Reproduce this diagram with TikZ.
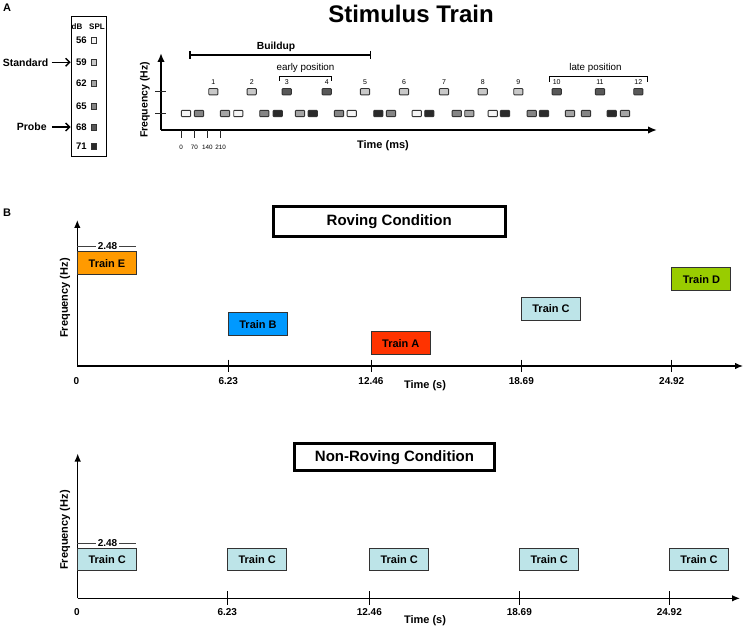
\documentclass[tikz,border=0pt]{standalone}
\usepackage{fontspec}
\setmainfont{Liberation Sans}
\usetikzlibrary{arrows.meta}
\newcommand\myfs[1]{\fontsize{#1}{#1}\selectfont}
\definecolor{lvA}{HTML}{F4F4F4}
\definecolor{lvB}{HTML}{C8C8C8}
\definecolor{lvC}{HTML}{A4A4A4}
\definecolor{lvD}{HTML}{858585}
\definecolor{lvE}{HTML}{585858}
\definecolor{lvF}{HTML}{2A2A2A}
\definecolor{trOrange}{HTML}{FF9A00}
\definecolor{trBlue}{HTML}{0099FF}
\definecolor{trRed}{HTML}{FF3300}
\definecolor{trCyan}{HTML}{BDE4E8}
\definecolor{trGreen}{HTML}{99CC00}
\tikzset{
  tone/.style={draw=black!80, line width=0.9pt, rounded corners=0.8pt, minimum width=9.2pt, minimum height=6.3pt, inner sep=0pt},
  lgsq/.style={draw=black!80, line width=0.7pt, minimum width=5.5pt, minimum height=6pt, inner sep=0pt},
  bold/.style={font=\bfseries\myfs{#1}, inner sep=0pt},
  reg/.style={font=\myfs{#1}, inner sep=0pt},
  train/.style={draw=black!80, line width=0.9pt, minimum width=59pt, minimum height=23pt, inner sep=0pt, font=\bfseries\myfs{11}},
  condbox/.style={draw=black, line width=3pt, inner sep=0pt, font=\bfseries\myfs{15}},
  bigaxis/.style={line width=2.8pt, -{Latex[length=9pt,width=7.5pt]}},
  axisB/.style={line width=1.2pt, -{Latex[length=8pt,width=6.5pt]}},
  thin/.style={line width=0.8pt, black!85},
  dimline/.style={line width=1pt, black!75},
  callout/.style={line width=1.4pt, -{Straight Barb[length=4pt,width=8pt]}},
}
\begin{document}
\begin{tikzpicture}[x=1pt,y=-1pt]
\useasboundingbox (0,0) rectangle (744,628);
% ---------------- Panel A ----------------
\node[bold=11] (labA) at (7,8) {A};
\node[bold=24] (title) at (411,14) {Stimulus Train};
% legend box
\node[draw, line width=0.8pt, minimum width=35.7pt, minimum height=140pt, inner sep=0pt] (legend) at (88.85,86.7) {};
\node[bold=8] (dB) at (77,26.7) {dB};
\node[bold=8] (spl) at (97,26.7) {SPL};
\foreach \y/\v/\c in {40.7/56/lvA, 62.3/59/lvB, 83.3/62/lvC, 106/65/lvD, 127/68/lvE, 146.7/71/lvF}{
  \node[bold=9.5] (n\v) at (81.5,\y) {\v};
  \node[lgsq, fill=\c] (s\v) at (93.7,\y) {};
}
\node[bold=10.5, anchor=east] (std) at (48.5,62.3) {Standard};
\node[bold=10.5, anchor=east] (prb) at (46.8,127) {Probe};
\draw[callout] (std.east) ++(3,0) coordinate (stdS) -- (legend.west |- std.east);
\draw[callout] (prb.east) ++(5,0) coordinate (prbS) -- (legend.west |- prb.east);
% axes
\coordinate (Aorig) at (161,130);
\draw[bigaxis] (Aorig) -- (161,53);
\draw[bigaxis] (Aorig) -- (657,130);
\node[bold=10.5, rotate=90] (freqA) at (145,100) {Frequency (Hz)};
\node[bold=11] (timeA) at (383,145.5) {Time (ms)};
\draw[thin] (155,91.7) -- (166,91.7);
\draw[thin] (155,113.5) -- (166,113.5);
\foreach \x/\t in {181/0, 194.3/70, 207.3/140, 220.7/210}{
  \draw[thin] (\x,130) -- (\x,138.5);
  \node[reg=6.3] at (\x,147.3) {\t};
}
% buildup
\draw[line width=1.5pt] (190,55) -- (370.7,55);
\draw[line width=1.2pt] (190,51) -- (190,59);
\draw[line width=1.2pt] (370.7,51) -- (370.7,59);
\node[bold=10.3] (build) at (276,46.5) {Buildup};
% early / late position brackets
\draw[line width=0.9pt] (279.3,81) -- (279.3,76.7) -- (331,76.7) -- (331,81);
\node[reg=9.8] (early) at (305.5,67.5) {early position};
\draw[line width=0.9pt] (549.3,82) -- (549.3,76.7) -- (647.3,76.7) -- (647.3,82);
\node[reg=9.8] (late) at (595.5,67.5) {late position};
% top tones
\foreach \x/\c [count=\i] in {213.3/lvB, 251.7/lvB, 286.7/lvE, 326.7/lvE, 365/lvB, 404/lvB, 444/lvB, 482.7/lvB, 518.3/lvB, 556.7/lvE, 600/lvE, 638.3/lvE}{
  \node[tone, fill=\c] (t\i) at (\x,91.7) {};
  \node[reg=7] (tl\i) at (\x,82.3) {\i};
}
% bottom tones
\foreach \x/\c [count=\i] in {186/lvA, 199/lvD, 225/lvC, 238.3/lvA, 264.3/lvD, 277.7/lvF, 300/lvC, 312.7/lvF, 339/lvD, 351.7/lvA, 378.3/lvF, 391/lvD, 416.7/lvA, 429.3/lvF, 456.7/lvD, 469.3/lvC, 492.7/lvA, 505/lvF, 531.7/lvD, 544/lvF, 570/lvC, 586/lvD, 611.7/lvF, 625/lvC}{
  \node[tone, fill=\c] (b\i) at (\x,113.5) {};
}
% ---------------- Panel B ----------------
\node[bold=11] (labB) at (7,213) {B};
% Roving
\node[condbox, minimum width=232pt, minimum height=29.7pt] (rov) at (389.2,221.4) {Roving Condition};
\coordinate (Borig) at (77.3,366);
\draw[axisB] (Borig) -- (77.3,220);
\draw[axisB] (Borig) -- (743,366);
\node[bold=11, rotate=90] (freqB) at (65,298) {Frequency (Hz)};
\node[bold=11] (timeB) at (425,385.5) {Time (s)};
\node[bold=10] (r0) at (76.5,380.7) {0};
\foreach \x/\t in {228.3/6.23, 371/12.46, 521.3/18.69, 671.7/24.92}{
  \draw[line width=1pt] (\x,359.5) -- (\x,372);
  \node[bold=10] at (\x,380.7) {\t};
}
\node[train, fill=trOrange] (trE) at (107,263.4) {Train E};
\node[train, fill=trBlue]   (trB) at (258,324.4) {Train B};
\node[train, fill=trRed]    (trA) at (400.8,343.4) {Train A};
\node[train, fill=trCyan]   (trC) at (551,309) {Train C};
\node[train, fill=trGreen]  (trD) at (701.4,279.4) {Train D};
\draw[dimline] (trE.north west) ++(0,-4.5) -- ++(59,0);
\node[bold=10, fill=white, inner xsep=2pt] (dimU) at (107.5,246.5) {2.48};
% Non-roving
\node[condbox, minimum width=199.4pt, minimum height=27pt] (nrov) at (394.5,457.3) {Non-Roving Condition};
\coordinate (Corig) at (77.7,598.3);
\draw[axisB] (Corig) -- (77.7,453.5);
\draw[axisB] (Corig) -- (740,598.3);
\node[bold=11, rotate=90] (freqC) at (65,530) {Frequency (Hz)};
\node[bold=11] (timeC) at (425,620.5) {Time (s)};
\node[bold=10] (c0) at (77,612.3) {0};
\foreach \x/\t in {227.3/6.23, 369.3/12.46, 519.3/18.69, 669.3/24.92}{
  \draw[line width=1pt] (\x,591) -- (\x,605);
  \node[bold=10] at (\x,612.3) {\t};
}
\foreach \x [count=\i] in {107.2, 257.2, 399.2, 549.2, 699}{
  \node[train, fill=trCyan, minimum height=21.7pt] (nc\i) at (\x,559.2) {Train C};
}
\draw[dimline] (nc1.north west) ++(0,-4.8) -- ++(59,0);
\node[bold=10, fill=white, inner xsep=2pt] (dimL) at (107.5,543.2) {2.48};
\end{tikzpicture}
\end{document}
